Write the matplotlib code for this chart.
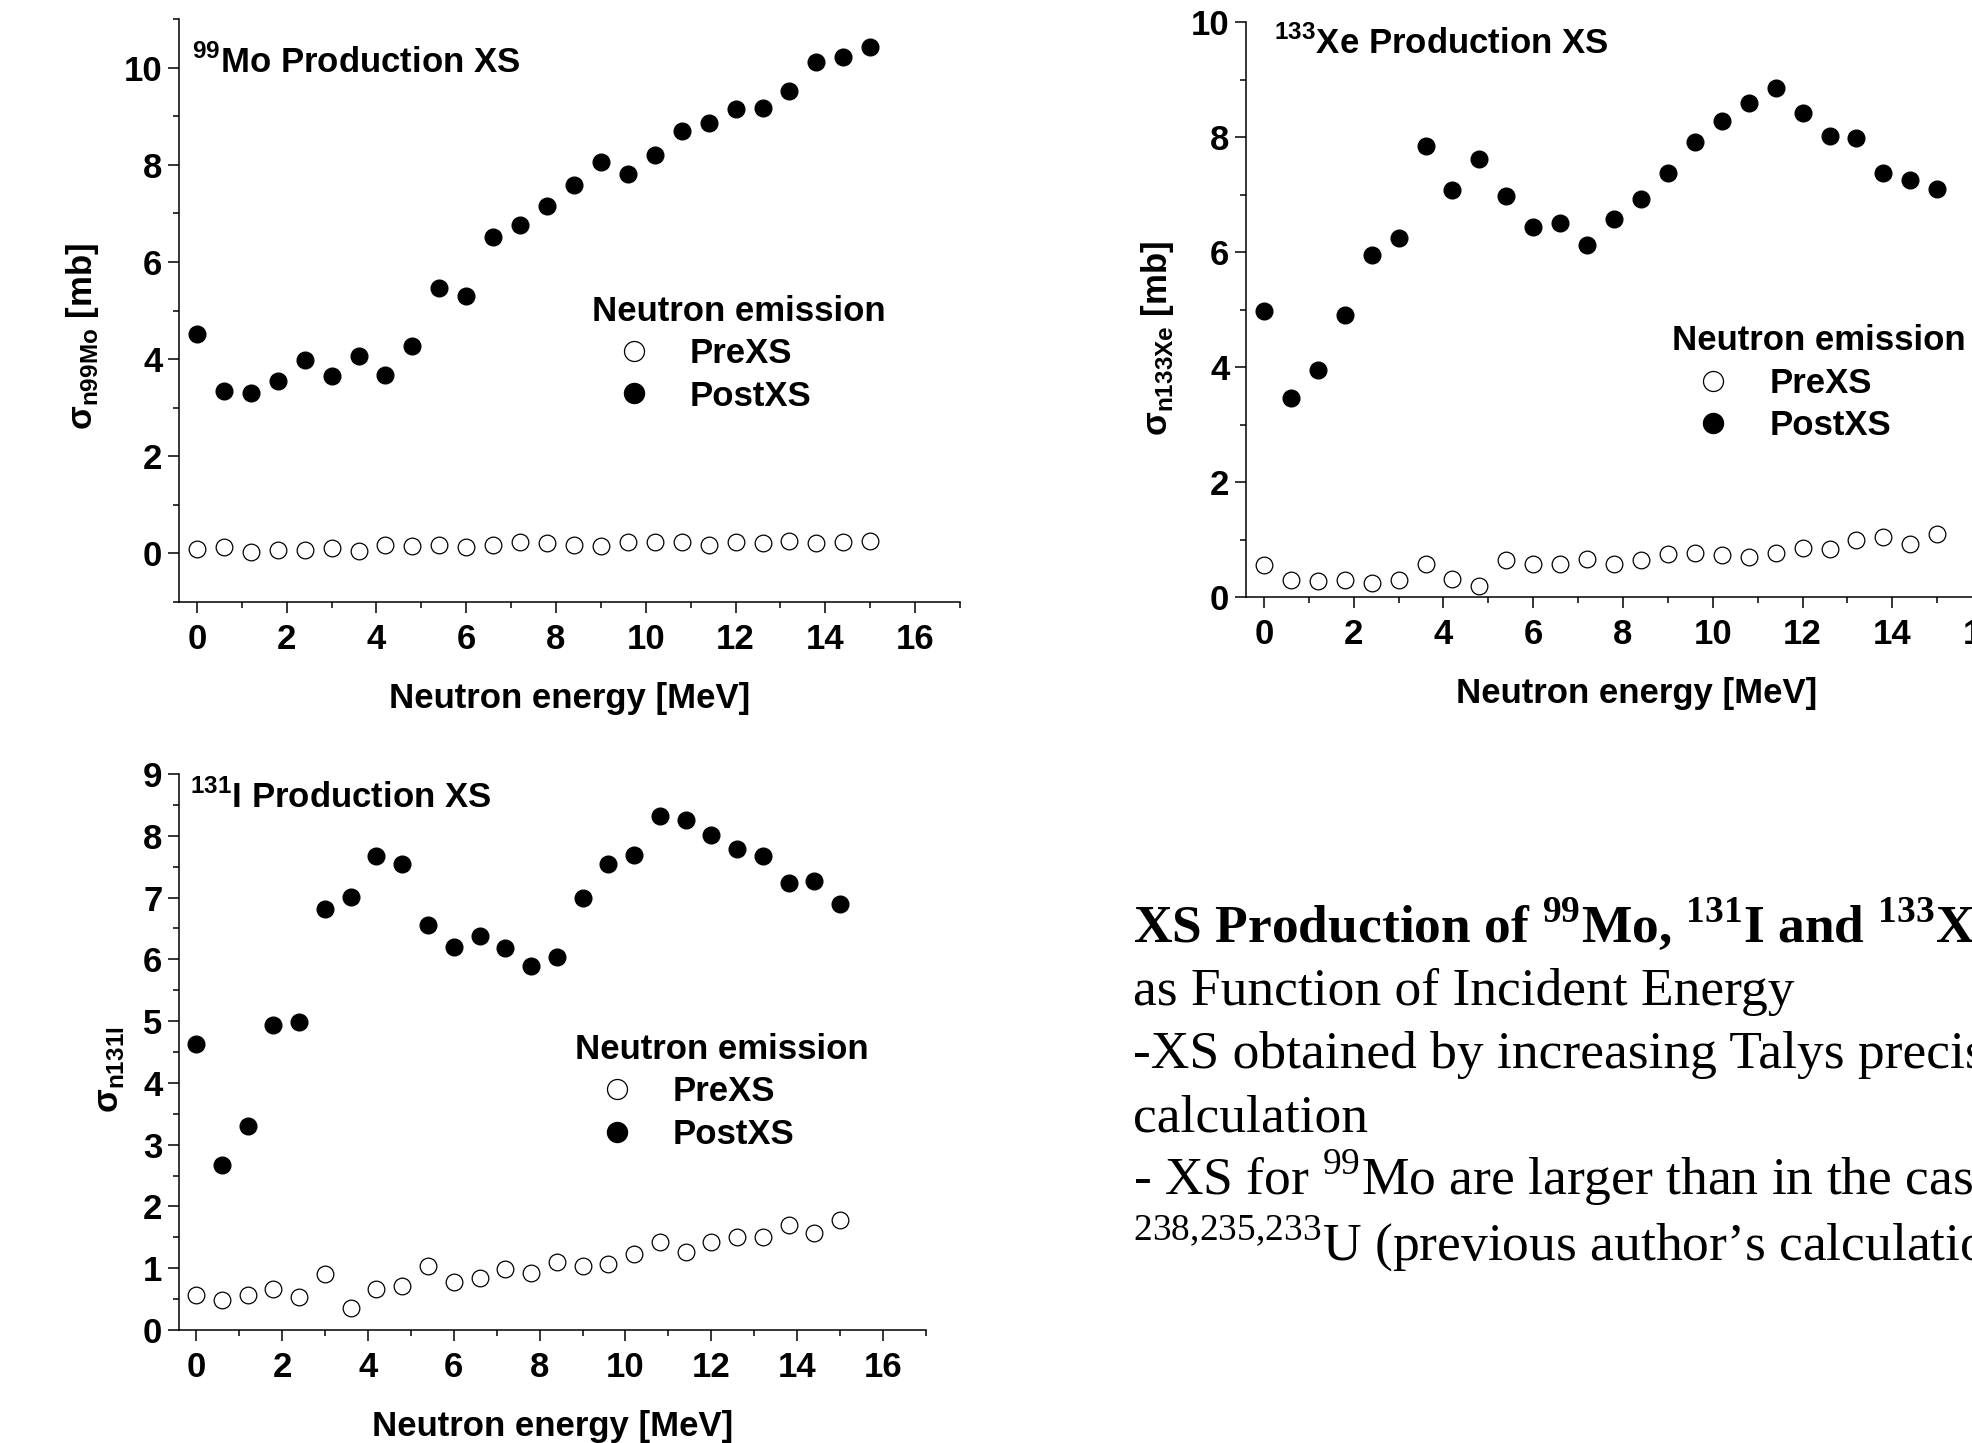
import numpy as np
import matplotlib
matplotlib.use('Agg')
import matplotlib.pyplot as plt
from matplotlib.ticker import MultipleLocator

plt.rcParams['font.family'] = 'Liberation Sans'
plt.rcParams['font.weight'] = 'bold'
plt.rcParams['axes.labelweight'] = 'bold'
plt.rcParams['mathtext.fontset'] = 'custom'
plt.rcParams['mathtext.rm'] = 'Liberation Serif:normal'
plt.rcParams['mathtext.bf'] = 'Liberation Serif:bold'
plt.rcParams['mathtext.sf'] = 'Liberation Sans:bold'

# neutron energies [MeV]
energy = [0.0, 0.6, 1.2, 1.8, 2.4, 3.0, 3.6, 4.2, 4.8, 5.4, 6.0, 6.6, 7.2,
          7.8, 8.4, 9.0, 9.6, 10.2, 10.8, 11.4, 12.0, 12.6, 13.2, 13.8, 14.4, 15.0]

# 99Mo production cross sections [mb]
mo_pre = [0.09, 0.14, 0.02, 0.07, 0.07, 0.11, 0.04, 0.18, 0.15, 0.17, 0.14, 0.18, 0.23,
          0.21, 0.18, 0.16, 0.23, 0.24, 0.23, 0.18, 0.23, 0.21, 0.26, 0.21, 0.24, 0.26]
mo_post = [4.52, 3.34, 3.31, 3.54, 3.99, 3.66, 4.07, 3.67, 4.26, 5.46, 5.29, 6.51, 6.75,
           7.16, 7.58, 8.06, 7.80, 8.21, 8.69, 8.85, 9.15, 9.16, 9.52, 10.11, 10.21, 10.42]

# 133Xe production cross sections [mb]
xe_pre = [0.56, 0.29, 0.27, 0.30, 0.25, 0.29, 0.57, 0.32, 0.20, 0.64, 0.57, 0.58, 0.66,
          0.57, 0.64, 0.75, 0.77, 0.73, 0.70, 0.77, 0.85, 0.83, 0.99, 1.05, 0.93, 1.09]
xe_post = [4.98, 3.46, 3.95, 4.90, 5.94, 6.24, 7.85, 7.07, 7.61, 6.98, 6.44, 6.50, 6.12,
           6.57, 6.92, 7.38, 7.91, 8.27, 8.60, 8.86, 8.42, 8.01, 7.98, 7.37, 7.25, 7.09]

# 131I production cross sections
i_pre = [0.56, 0.48, 0.57, 0.67, 0.54, 0.90, 0.36, 0.66, 0.72, 1.03, 0.78, 0.84, 0.99,
         0.93, 1.10, 1.04, 1.07, 1.23, 1.43, 1.26, 1.42, 1.51, 1.51, 1.70, 1.57, 1.78]
i_post = [4.63, 2.67, 3.31, 4.93, 4.98, 6.81, 7.01, 7.67, 7.55, 6.56, 6.20, 6.38, 6.19,
          5.90, 6.04, 6.99, 7.54, 7.69, 8.32, 8.26, 8.01, 7.79, 7.67, 7.23, 7.26, 6.89]

W, H = 1972, 1443
FS = 25
fig = plt.figure(figsize=(W / 100, H / 100), dpi=100)


def panel(rect, pre, post, title, ylabel, ylim, ymaj, ymin, title_xy, leg_xy, ylab_xy):
    ax = fig.add_axes(rect)
    ax.plot(energy, pre, 'o', ls='none', ms=12, mfc='white', mec='black', mew=0.9,
            label='PreXS')
    ax.plot(energy, post, 'o', ls='none', ms=12, mfc='black', mec='black',
            label='PostXS')
    ax.set_xlim(-0.4, 17)
    ax.set_ylim(*ylim)
    ax.xaxis.set_major_locator(MultipleLocator(2))
    ax.xaxis.set_minor_locator(MultipleLocator(1))
    ax.yaxis.set_major_locator(MultipleLocator(ymaj))
    ax.yaxis.set_minor_locator(MultipleLocator(ymin))
    for s in ['top', 'right']:
        ax.spines[s].set_visible(False)
    for s in ['left', 'bottom']:
        ax.spines[s].set_linewidth(1.1)
    ax.tick_params(which='both', direction='out', width=1.1, labelsize=FS)
    ax.tick_params(which='major', length=8)
    ax.tick_params(which='minor', length=4.5)
    ax.tick_params(axis='x', pad=7)
    ax.tick_params(axis='y', pad=4)
    ax.set_xlabel('Neutron energy [MeV]', fontsize=FS, fontweight='bold', labelpad=19)
    ax.set_ylabel(ylabel, fontsize=FS, fontweight='bold')
    ax.yaxis.set_label_coords(*ylab_xy)
    ax.text(title_xy[0], title_xy[1], title, transform=ax.transAxes,
            fontsize=FS, va='baseline', ha='left')
    ax.legend(title='Neutron emission', loc='upper left', bbox_to_anchor=leg_xy,
              frameon=False, fontsize=FS, title_fontsize=FS, alignment='left',
              handlelength=2.4, handletextpad=0.42, borderpad=0, borderaxespad=0,
              labelspacing=0.27, markerscale=1.2)
    return ax


panel([179 / W, 1 - 602 / H, 781 / W, 583 / H], mo_pre, mo_post,
      r'$^{\mathsf{99}}$Mo Production XS', r'σ$_{\mathsf{n99Mo}}$ [mb]',
      (-1, 11), 2, 1, (0.017, 0.907), (0.529, 0.527), (-0.10, 0.455))

panel([1246 / W, 1 - 597 / H, 781 / W, 575 / H], xe_pre, xe_post,
      r'$^{\mathsf{133}}$Xe Production XS', r'σ$_{\mathsf{n133Xe}}$ [mb]',
      (0, 10), 2, 1, (0.036, 0.944), (0.545, 0.474), (-0.09, 0.45))

panel([179 / W, 1 - 1330 / H, 747 / W, 556 / H], i_pre, i_post,
      r'$^{\mathsf{131}}$I Production XS', r'σ$_{\mathsf{n131I}}$',
      (0, 9), 1, 0.5, (0.015, 0.94), (0.530, 0.534), (-0.071, 0.469))

# summary text
lines = [
    (r'XS Production of $^{\mathbf{99}}$Mo, $^{\mathbf{131}}$I and $^{\mathbf{133}}$Xe', 'bold', 941),
    ('as Function of Incident Energy', 'normal', 1005),
    ('-XS obtained by increasing Talys precision', 'normal', 1068),
    ('calculation', 'normal', 1131),
    (r'- XS for $^{\mathrm{99}}$Mo are larger than in the case of', 'normal', 1195),
    (r'$^{\mathrm{238{,}235{,}233}}$U (previous author’s calculation)', 'normal', 1260),
]
for txt, wt, base in lines:
    fig.text(1133 / W, 1 - base / H, txt, fontsize=38.5, family='Liberation Serif',
             fontweight=wt, va='baseline', ha='left')

fig.savefig('out.png', dpi=100)
